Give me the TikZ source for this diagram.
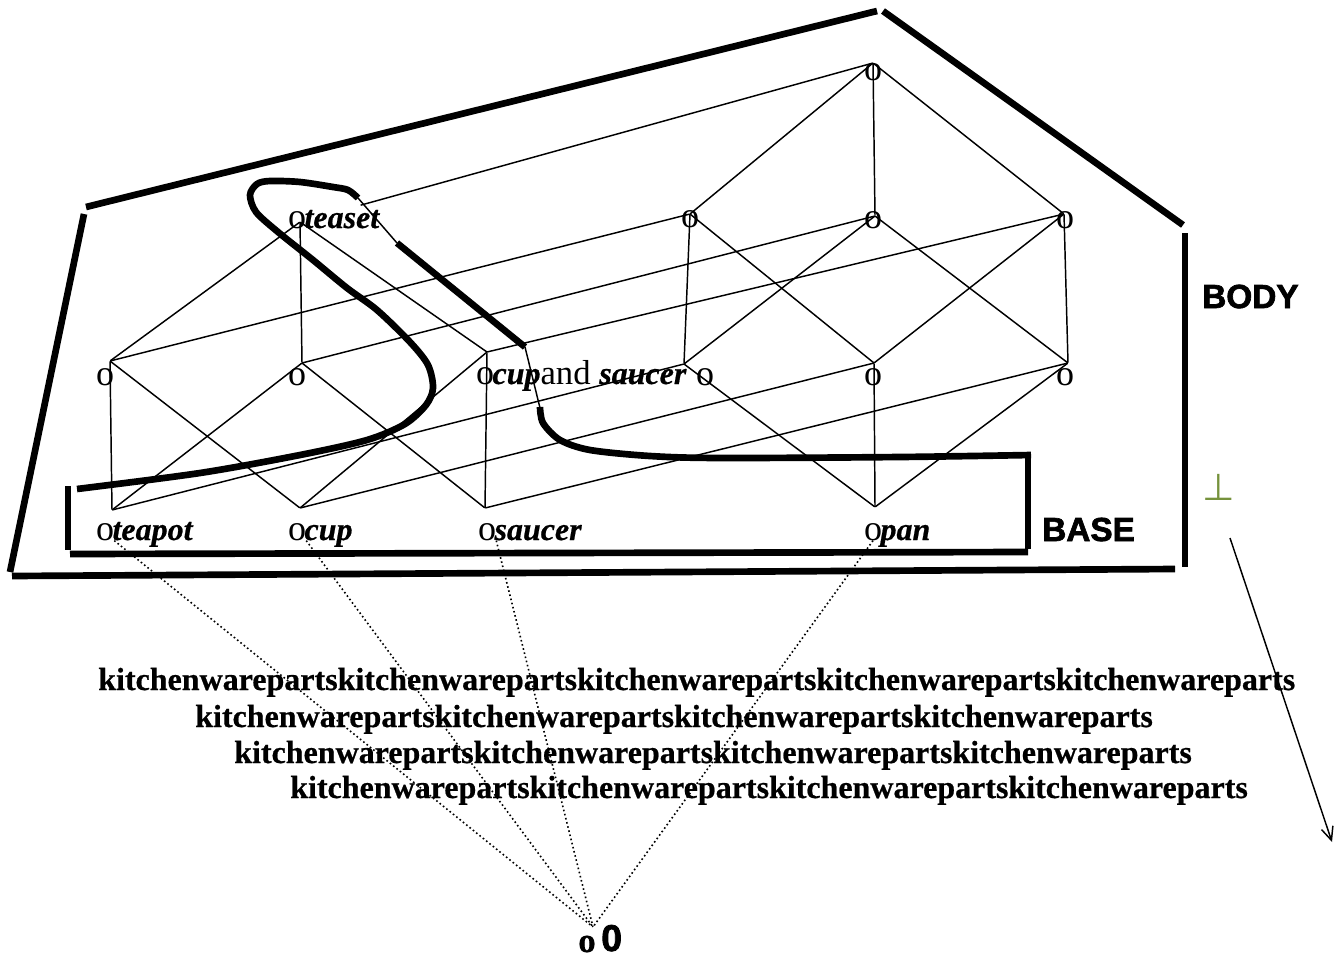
\documentclass[tikz,border=0pt]{standalone}
\usepackage{fontspec}
\setmainfont{Liberation Serif}[BoldFeatures={FakeBold=0.6},BoldItalicFeatures={FakeBold=0.6}]
\newfontfamily\tagfont{Liberation Sans}[BoldFeatures={FakeBold=2}]
\newfontfamily\symfont{DejaVu Sans}
\usetikzlibrary{positioning,arrows.meta}

\definecolor{perpolive}{RGB}{118,146,60}

\begin{document}
\begin{tikzpicture}[x=0.75pt,y=-0.75pt,
		every edge/.append style={line width=1.1pt},
		v/.style={inner sep=0pt,minimum size=0pt},
		elt/.style={inner sep=0pt,anchor=base,font=\fontsize{27}{30}\selectfont},
		word/.style={inner sep=0pt,anchor=base west,xshift=-1.5pt,font=\fontsize{24}{28}\selectfont\bfseries\itshape},
		kw/.style={inner sep=0pt,anchor=base west,font=\fontsize{24}{28}\selectfont\bfseries},
		tag/.style={inner sep=0pt,anchor=base west,font=\tagfont\fontsize{25}{28}\selectfont\bfseries},
		bound/.style={line width=5pt},
		fine/.style={line width=1.1pt},
		dots/.style={line width=1.2pt,dotted}
		]
		\useasboundingbox (0,0) rectangle (1334,957);
		
		\node[v] (one) at (873,63) {};
		\node[v] (tcs) at (300,222) {};
		\node[v] (tcp) at (690,214) {};
		\node[v] (tsp) at (875,216) {};
		\node[v] (csp) at (1064,214) {};
		\node[v] (tc) at (110,361) {};
		\node[v] (ts) at (302,363) {};
		\node[v] (cs) at (487,352) {};
		\node[v] (tp) at (684,364) {};
		\node[v] (cp) at (874,363) {};
		\node[v] (sp) at (1068,363) {};
		\node[v] (tea) at (112,510) {};
		\node[v] (cup) at (300,508) {};
		\node[v] (sau) at (485,508) {};
		\node[v] (pan) at (875,507) {};
		\node[v] (zero) at (593,927) {};
		
		\node[elt] (one-o) at (873,80) {o};
		\node[elt] (tcs-o) at (297,228) {o};
		\node[word] at (tcs-o.base east) {teaset};
		\node[elt] (tcp-o) at (690,227) {o};
		\node[elt] (tsp-o) at (873,228) {o};
		\node[elt] (csp-o) at (1065,228) {o};
		\node[elt] (tc-o) at (105,385) {o};
		\node[elt] (ts-o) at (297,385) {o};
		\node[elt] (cs-o) at (485,384) {o};
		\node[word] at (cs-o.base east) {cup\normalfont\fontsize{26}{28}\selectfont and \bfseries\itshape\fontsize{24}{28}\selectfont saucer};
		\node[elt] (tp-o) at (705,385) {o};
		\node[elt] (cp-o) at (873,385) {o};
		\node[elt] (sp-o) at (1065,385) {o};
		\node[elt] (tea-o) at (105,540) {o};
		\node[word] at (tea-o.base east) {teapot};
		\node[elt] (cup-o) at (297,540) {o};
		\node[word] at (cup-o.base east) {cup};
		\node[elt] (sau-o) at (487,540) {o};
		\node[word] at (sau-o.base east) {saucer};
		\node[elt] (pan-o) at (873,540) {o};
		\node[word] at (pan-o.base east) {pan};
		\node[elt,font=\fontsize{26}{28}\selectfont\bfseries] (zero-o) at (587,952) {o};
		\node[tag,font=\tagfont\fontsize{28}{30}\selectfont\bfseries] at (601,951) {0};
		
		\path (one) edge[shorten >=47pt] (tcs);
		\path (one) edge (tcp);
		\path (one) edge (tsp);
		\path (one) edge (csp);
		\path (tcs) edge (tc);
		\path (tcs) edge (ts);
		\path (tcs) edge (cs);
		\path (tcp) edge (tc);
		\path (tcp) edge (tp);
		\path (tcp) edge (cp);
		\path (tsp) edge (ts);
		\path (tsp) edge (tp);
		\path (tsp) edge (sp);
		\path (csp) edge (cs);
		\path (csp) edge (cp);
		\path (csp) edge (sp);
		\path (tc) edge (tea);
		\path (tc) edge (cup);
		\path (ts) edge (tea);
		\path (ts) edge (sau);
		\path (cs) edge (cup);
		\path (cs) edge (sau);
		\path (tp) edge (tea);
		\path (tp) edge (pan);
		\path (cp) edge (cup);
		\path (cp) edge (pan);
		\path (sp) edge (sau);
		\path (sp) edge (pan);
		
		\draw[dots] (tea-o.south east) -- (zero);
		\draw[dots] (cup-o.south east) -- (zero);
		\draw[dots] (sau-o.south east) -- (zero);
		\draw[dots] (pan-o.south) -- (zero);
		
		\draw[bound] (86,207) -- (877,11);
		\draw[bound] (883,11) -- (1183,225);
		\draw[bound] (1185,233) -- (1185,567);
		\draw[bound] (1175,569) -- (12,576);
		\draw[bound] (10,572) -- (84,214);
		
		\draw[bound] (68,486) -- (68,550);
		\draw[bound] (70,554) -- (1028,552);
		\draw[bound] (1028,549) -- (1028,458);
		
		\draw[bound] plot[smooth] coordinates {(77,489) (200,473) (300,455) (367,440) (405,424) (426,405) (433,388) (428,365) (410,342) (377,310) (347,288) (313,260) (278,232) (256,212) (250,195) (257,184) (270,181) (300,182) (333,187) (348,190) (358,198)};
		\draw[fine] (358,198) -- (397,243);
		\draw[bound] (397,243) -- (525,347);
		\draw[fine] (525,347) -- (540,408);
		\draw[bound] plot[smooth] coordinates {(540,407) (543,423) (560,440) (590,450) (650,456) (720,458) (900,457) (1031,455)};
		
		\node[tag] (body) at (1202,308) {BODY};
		\node[tag] (base) at (1042,541) {BASE};
		\node[text=perpolive,inner sep=0pt,font=\symfont\fontsize{28}{30}\selectfont] (bot) at (1219,487) {⊥};
		
		\node[kw] (kw1) at (98,690) {kitchenwarepartskitchenwarepartskitchenwarepartskitchenwarepartskitchenwareparts};
		\node[kw] (kw2) at (195,727) {kitchenwarepartskitchenwarepartskitchenwarepartskitchenwareparts};
		\node[kw] (kw3) at (234,763) {kitchenwarepartskitchenwarepartskitchenwarepartskitchenwareparts};
		\node[kw] (kw4) at (290,798) {kitchenwarepartskitchenwarepartskitchenwarepartskitchenwareparts};
		
		\coordinate (down) at (1230,538);
		\coordinate (down-end) at (1332,842);
		\draw[fine,-{Straight Barb[length=10pt,width=9pt]}] (down) -- (down-end);
	\end{tikzpicture}
\end{document}
